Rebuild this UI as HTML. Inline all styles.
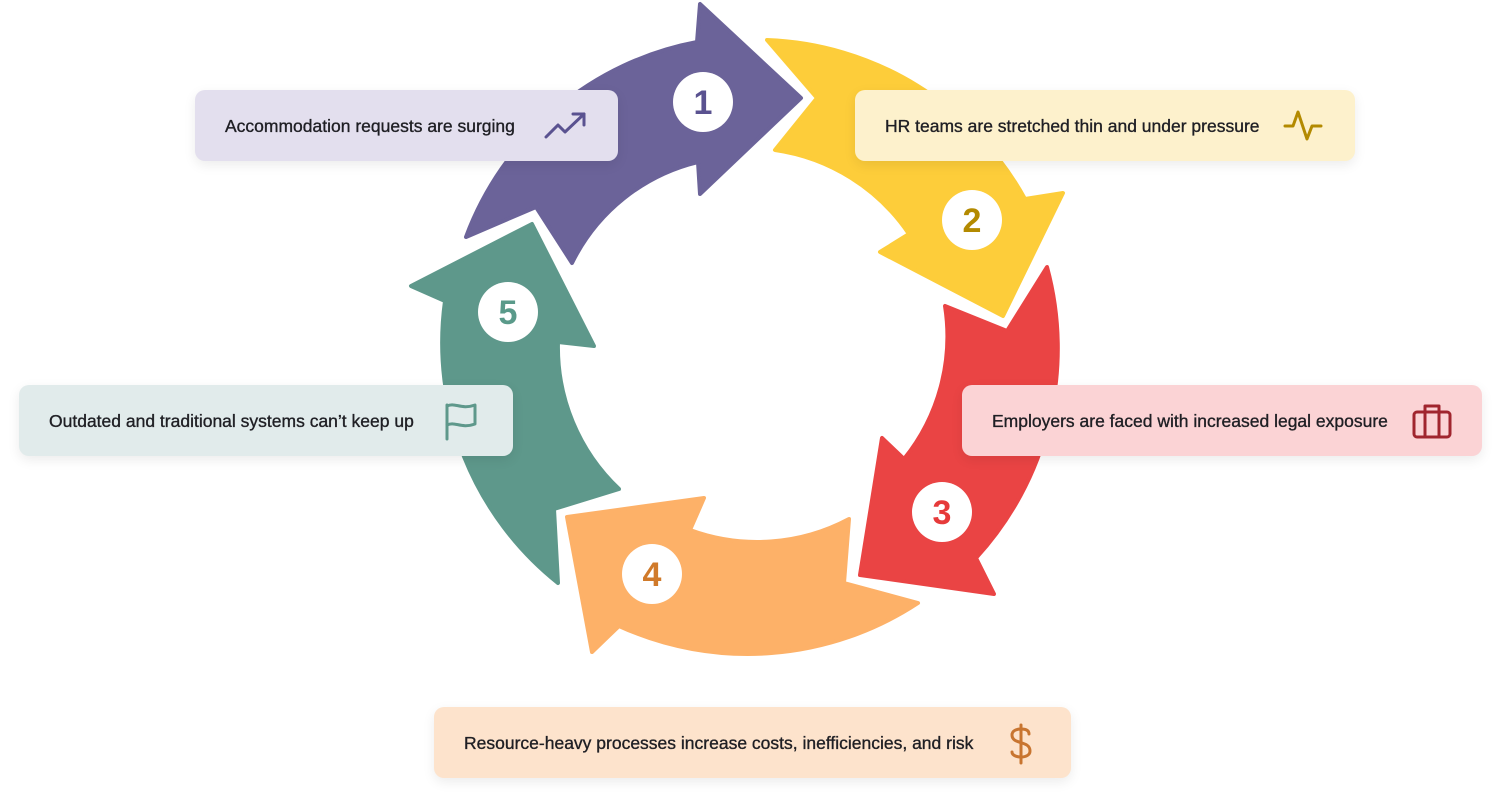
<!DOCTYPE html>
<html><head><meta charset="utf-8"><style>
html,body{margin:0;padding:0;background:#fff;width:1500px;height:800px;overflow:hidden;font-family:"Liberation Sans",sans-serif}
.box{position:absolute;border-radius:10px;box-shadow:0 4px 12px rgba(0,0,0,0.08);font-size:17.5px;color:#1f1f24;box-sizing:border-box;height:71px}
.box span{position:absolute;left:30px;top:26px;white-space:nowrap;-webkit-text-stroke:0.35px #1f1f24}
.box svg{position:absolute}
</style></head><body>
<svg width="1500" height="800" style="position:absolute;left:0;top:0">
<g stroke-linejoin="round" stroke-width="4">
<path fill="#6b6399" stroke="#6b6399" d="M466,237 L536,207 L572,263 A190,190 0 0 1 698,162 L700,194 L801,98 L700,4 L697,42 A307,307 0 0 0 466,237 Z"/>
<path fill="#fdcd3a" stroke="#fdcd3a" d="M767,40 L817,98 L775,150 A195,195 0 0 1 909,234 L880,252 L1003,316 L1063,193 L1025,199 A307,307 0 0 0 767,40 Z"/>
<path fill="#ea4444" stroke="#ea4444" d="M1047,267 L1007,331 L945,306 A195,195 0 0 1 904,459 L882,438 L860,575 L994,594 L976,558 A310,310 0 0 0 1047,267 Z"/>
<path fill="#fdb168" stroke="#fdb168" d="M918,603 L844,583 L849,519 A195,195 0 0 1 690,530 L704,498 L567,517 L592,652 L619,626 A310,310 0 0 0 918,603 Z"/>
<path fill="#5e988b" stroke="#5e988b" d="M558,583 L554,509 L619,489 A195,195 0 0 1 558,342 L594,346 L532,224 L411,286 L445,301 A307,307 0 0 0 558,583 Z"/>
</g>
<g font-family="Liberation Sans,sans-serif" font-weight="bold" font-size="34" text-anchor="middle">
<circle cx="703" cy="102" r="30" fill="#fff"/><text x="703" y="114" fill="#5a5290">1</text>
<circle cx="972" cy="220" r="30" fill="#fff"/><text x="972" y="232" fill="#b38a00">2</text>
<circle cx="942" cy="512" r="30" fill="#fff"/><text x="942" y="524" fill="#e63a3a">3</text>
<circle cx="652" cy="574" r="30" fill="#fff"/><text x="652" y="586" fill="#d07a2a">4</text>
<circle cx="508" cy="312" r="30" fill="#fff"/><text x="508" y="324" fill="#5a9a8a">5</text>
</g>
</svg>

<div class="box" style="left:195px;top:90px;width:423px;background:#e3dfee">
<span>Accommodation requests are surging</span>
<svg style="left:348px;top:20px" width="46" height="30" viewBox="0 0 46 30" fill="none" stroke="#5a5290" stroke-width="3" stroke-linecap="round" stroke-linejoin="round"><path d="M3,27 L15,15 L22,22 L41,4"/><path d="M30,4 L41,4 L41,15"/></svg>
</div>

<div class="box" style="left:855px;top:90px;width:500px;background:#fdf1cc">
<span>HR teams are stretched thin and under pressure</span>
<svg style="left:428px;top:18px" width="40" height="36" viewBox="0 0 40 36" fill="none" stroke="#b38a00" stroke-width="3" stroke-linecap="round" stroke-linejoin="round"><path d="M2,18 L10,18 L15,4 L24,31 L29,18 L38,18"/></svg>
</div>

<div class="box" style="left:962px;top:385px;width:520px;background:#fbd3d5">
<span>Employers are faced with increased legal exposure</span>
<svg style="left:449px;top:18px" width="42" height="38" viewBox="0 0 42 38" fill="none" stroke="#a0252e" stroke-width="3" stroke-linecap="round" stroke-linejoin="round"><rect x="3" y="9" width="36" height="25" rx="3"/><path d="M14,9 V3 H28 V9 M14,9 V34 M28,9 V34"/></svg>
</div>

<div class="box" style="left:434px;top:707px;width:637px;background:#fde3cc">
<span>Resource-heavy processes increase costs, inefficiencies, and risk</span>
<svg style="left:573px;top:16px" width="28" height="42" viewBox="0 0 28 42" fill="none" stroke="#c87530" stroke-width="3" stroke-linecap="round" stroke-linejoin="round"><path d="M14,2 V40"/><path d="M22,11 C22,7 18,6 14,6 C9,6 5,8 5,12 C5,22 23,17 23,28 C23,32 19,34 14,34 C9,34 5,32 5,29"/></svg>
</div>

<div class="box" style="left:19px;top:385px;width:494px;background:#e1ebeb">
<span>Outdated and traditional systems can’t keep up</span>
<svg style="left:424px;top:16px" width="36" height="40" viewBox="0 0 36 40" fill="none" stroke="#5e988b" stroke-width="3" stroke-linecap="round" stroke-linejoin="round"><path d="M4,38 V4"/><path d="M4,5 C12,1 18,9 32,4 V23 C18,28 12,20 4,24"/></svg>
</div>
</body></html>
